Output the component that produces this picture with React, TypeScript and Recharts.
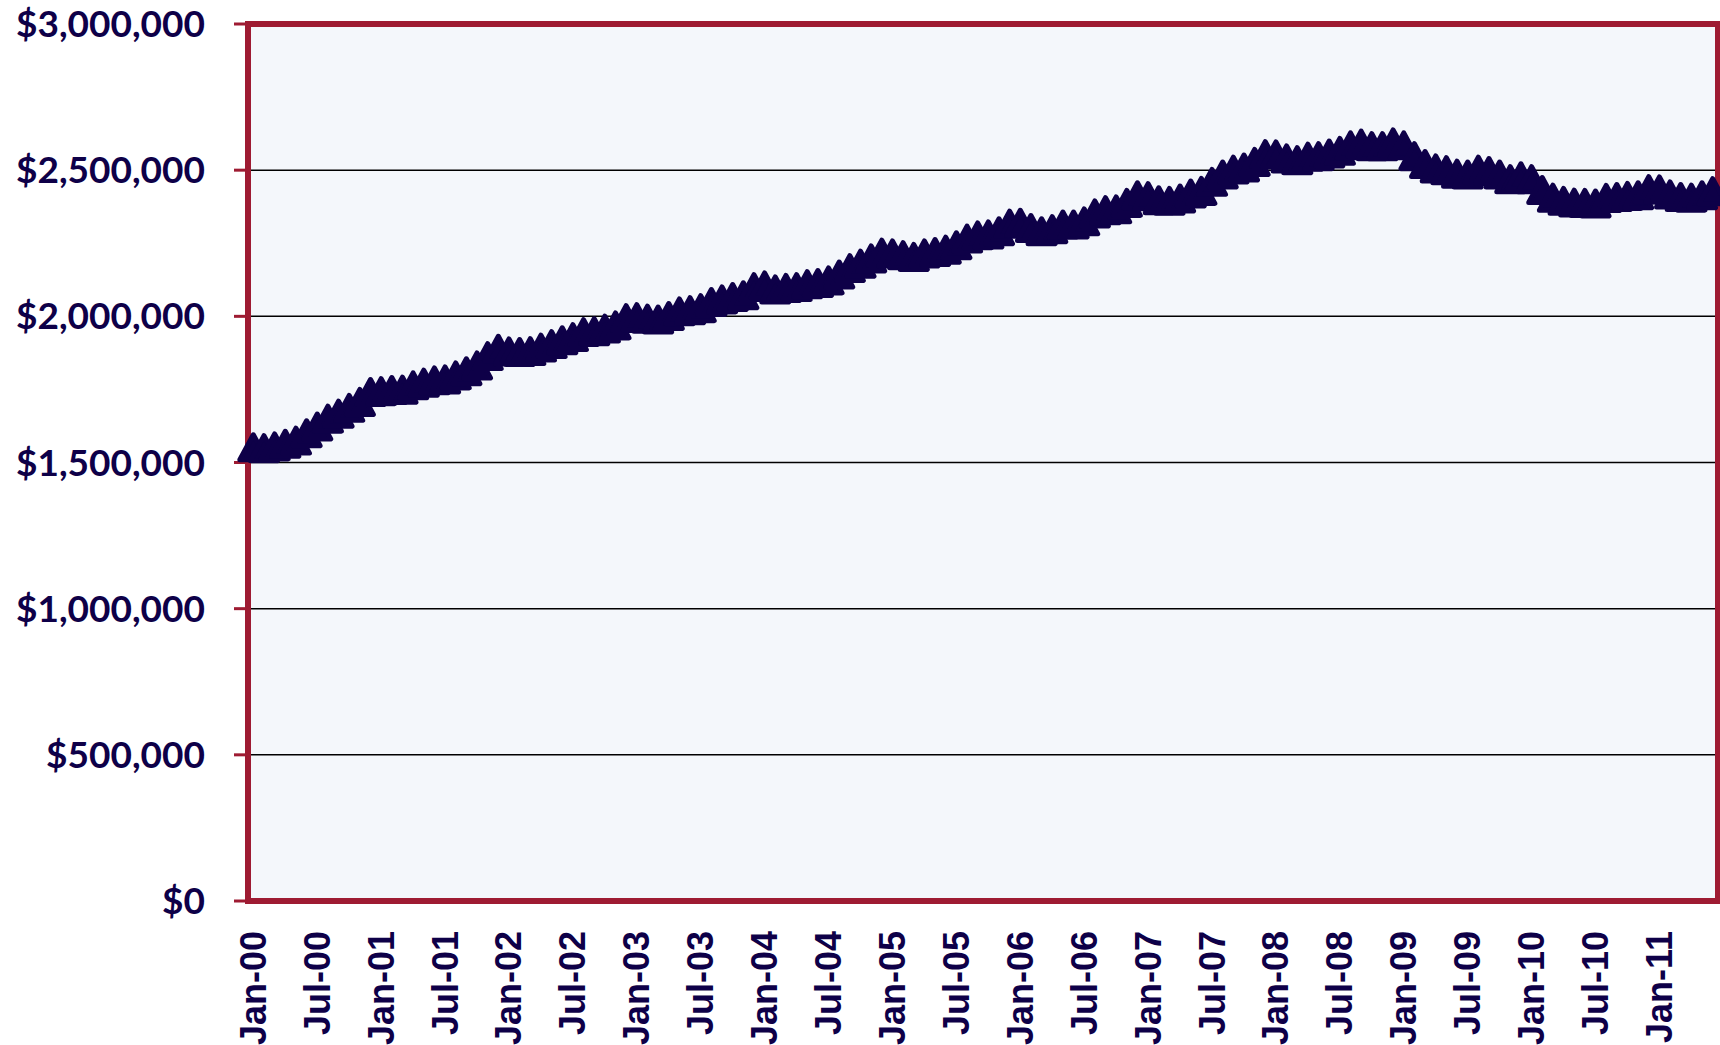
import React from "react";
import {
  LineChart,
  Line,
  XAxis,
  YAxis,
  CartesianGrid,
  ReferenceArea,
} from "recharts";

const MONTHS = ["Jan", "Feb", "Mar", "Apr", "May", "Jun", "Jul", "Aug", "Sep", "Oct", "Nov", "Dec"];

// monthly values, one array per year (2011 runs to June)
const values2000 = [1552000, 1549000, 1555000, 1564000, 1575000, 1600000, 1623000, 1650000, 1667000, 1687000, 1707000, 1741000];
const values2001 = [1744000, 1748000, 1749000, 1764000, 1773000, 1781000, 1784000, 1798000, 1812000, 1832000, 1864000, 1889000];
const values2002 = [1880000, 1878000, 1881000, 1893000, 1905000, 1918000, 1929000, 1946000, 1949000, 1958000, 1969000, 1994000];
const values2003 = [1997000, 1992000, 1989000, 2001000, 2017000, 2021000, 2028000, 2049000, 2058000, 2066000, 2072000, 2100000];
const values2004 = [2106000, 2092000, 2097000, 2100000, 2110000, 2114000, 2123000, 2143000, 2165000, 2180000, 2198000, 2218000];
const values2005 = [2215000, 2209000, 2203000, 2215000, 2220000, 2228000, 2243000, 2266000, 2277000, 2280000, 2291000, 2317000];
const values2006 = [2320000, 2302000, 2291000, 2298000, 2314000, 2314000, 2325000, 2352000, 2363000, 2366000, 2388000, 2414000];
const values2007 = [2411000, 2397000, 2395000, 2403000, 2420000, 2429000, 2460000, 2485000, 2502000, 2509000, 2528000, 2555000];
const values2008 = [2554000, 2540000, 2534000, 2546000, 2548000, 2557000, 2566000, 2585000, 2591000, 2582000, 2582000, 2595000];
const values2009 = [2585000, 2548000, 2521000, 2506000, 2500000, 2488000, 2485000, 2502000, 2497000, 2485000, 2469000, 2479000];
const values2010 = [2469000, 2432000, 2406000, 2395000, 2389000, 2388000, 2386000, 2405000, 2408000, 2412000, 2414000, 2435000];
const values2011 = [2434000, 2417000, 2408000, 2406000, 2414000, 2428000];

const yearSeries = [
  { yy: "00", values: values2000 },
  { yy: "01", values: values2001 },
  { yy: "02", values: values2002 },
  { yy: "03", values: values2003 },
  { yy: "04", values: values2004 },
  { yy: "05", values: values2005 },
  { yy: "06", values: values2006 },
  { yy: "07", values: values2007 },
  { yy: "08", values: values2008 },
  { yy: "09", values: values2009 },
  { yy: "10", values: values2010 },
  { yy: "11", values: values2011 },
];

const yTicks = [0, 500000, 1000000, 1500000, 2000000, 2500000, 3000000];

const data = yearSeries.flatMap(({ yy, values }) =>
  values.map((v, m) => ({ month: `${MONTHS[m]}-${yy}`, value: v }))
);

const NAVY = "#0E0048";
const RED = "#9E1B32";

const TriangleDot = (props: any) => {
  const { cx, cy, index } = props;
  if (cx == null || cy == null) return null;
  const d = `M${cx},${cy - 12.5} L${cx + 13.5},${cy + 12.5} L${cx - 13.5},${cy + 12.5} Z`;
  return (
    <path
      key={`tri-${index}`}
      d={d}
      fill={NAVY}
      stroke={NAVY}
      strokeWidth={5}
      strokeLinejoin="round"
    />
  );
};

const XTick = (props: any) => {
  const { x, y, payload } = props;
  return (
    <text
      x={x}
      y={y}
      transform={`rotate(-90, ${x}, ${y})`}
      textAnchor="end"
      dominantBaseline="central"
      fill={NAVY}
      fontFamily="'Liberation Sans', Arial, sans-serif"
      fontWeight="bold"
      fontSize={36}
    >
      {payload.value}
    </text>
  );
};

export default function App() {
  return (
    <div
      style={{
        position: "absolute",
        top: 0,
        left: 0,
        width: 1720,
        height: 1045,
        overflow: "hidden",
        background: "#fff",
      }}
    >
      <LineChart
        width={1720}
        height={1045}
        data={data}
        margin={{ top: 24, right: 2, left: 0, bottom: 0 }}
      >
        <CartesianGrid
          vertical={false}
          stroke="#000"
          strokeWidth={1.5}
          fill="#F4F7FB"
          fillOpacity={1}
        />
        <XAxis
          dataKey="month"
          scale="band"
          interval={5}
          height={144}
          axisLine={false}
          tickLine={false}
          tickMargin={24}
          tick={<XTick />}
        />
        <YAxis
          width={248}
          domain={[0, 3000000]}
          ticks={yTicks}
          axisLine={false}
          tickLine={{ stroke: RED, strokeWidth: 3 }}
          tickSize={14}
          tickMargin={29}
          tickFormatter={(v: number) => `$${v.toLocaleString("en-US")}`}
          tick={{
            fill: NAVY,
            fontFamily: "Lato, 'Open Sans', sans-serif",
            fontWeight: "bold",
            fontSize: 37,
          }}
        />
        <ReferenceArea
          y1={0}
          y2={3000000}
          fill="none"
          stroke={RED}
          strokeWidth={6}
          ifOverflow="visible"
        />
        <Line
          type="linear"
          dataKey="value"
          stroke={NAVY}
          strokeWidth={3}
          dot={TriangleDot}
          activeDot={false}
          isAnimationActive={false}
        />
      </LineChart>
    </div>
  );
}
